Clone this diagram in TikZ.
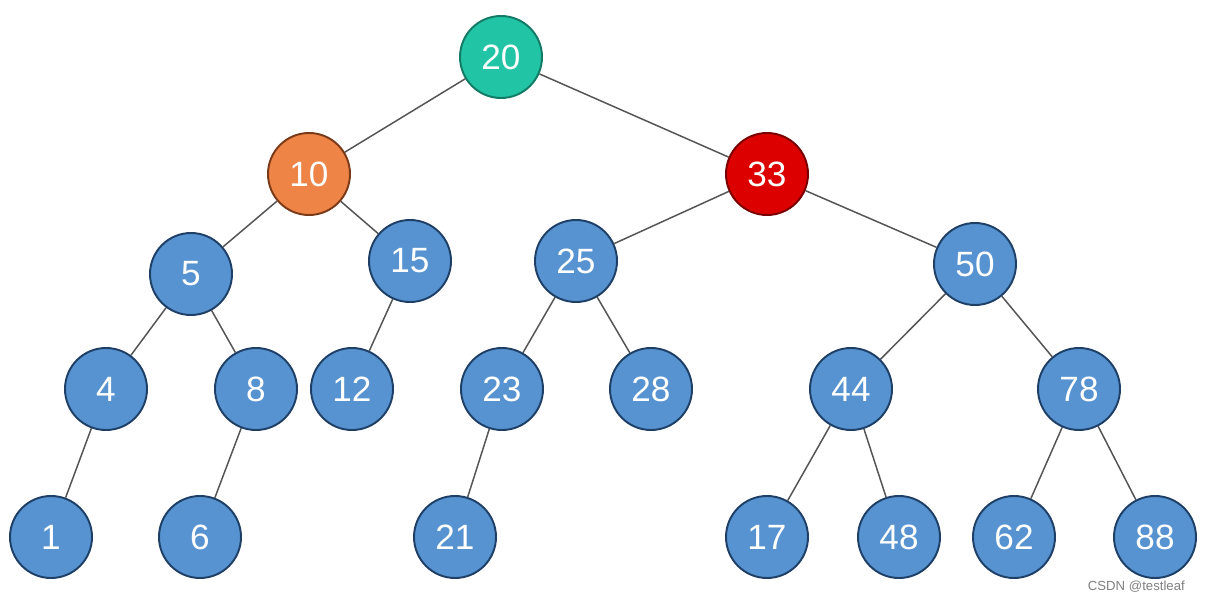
\documentclass[tikz,border=0pt]{standalone}
\usepackage{fontspec}
\setmainfont{Liberation Sans}
\usepackage{tikz}
\usetikzlibrary{
  positioning,
  backgrounds,
}
\definecolor{rootFill}{HTML}{22C4A6}
\definecolor{rootLine}{HTML}{137A66}
\definecolor{leftFill}{HTML}{EE8446}
\definecolor{leftLine}{HTML}{7A3A18}
\definecolor{rightFill}{HTML}{DC0000}
\definecolor{rightLine}{HTML}{7A0000}
\definecolor{keyFill}{HTML}{5793D0}
\definecolor{keyLine}{HTML}{1E3F66}
\definecolor{edgeCol}{HTML}{555555}

\tikzset{
  keynode/.style={circle, minimum size=1.64cm, inner sep=0pt,
    line width=1.1pt, text=white,
    font=\fontsize{20}{20}\selectfont},
  treeedge/.style={draw=edgeCol, line width=0.85pt},
}

\begin{document}
\begin{tikzpicture}
\useasboundingbox (0,0) rectangle (24.12,-12.04);

% keys of the tree: key/x/y/fill/border
\foreach \key/\x/\y/\fcol/\dcol in {%
  20/10.02/-1.14/rootFill/rootLine,%
  10/6.18/-3.48/leftFill/leftLine,%
  33/15.34/-3.48/rightFill/rightLine,%
  5/3.82/-5.48/keyFill/keyLine,%
  15/8.20/-5.22/keyFill/keyLine,%
  25/11.52/-5.22/keyFill/keyLine,%
  50/19.50/-5.28/keyFill/keyLine,%
  4/2.12/-7.78/keyFill/keyLine,%
  8/5.12/-7.78/keyFill/keyLine,%
  12/7.04/-7.78/keyFill/keyLine,%
  23/10.04/-7.78/keyFill/keyLine,%
  28/13.02/-7.78/keyFill/keyLine,%
  44/17.02/-7.78/keyFill/keyLine,%
  78/21.58/-7.78/keyFill/keyLine,%
  1/1.02/-10.74/keyFill/keyLine,%
  6/4.00/-10.74/keyFill/keyLine,%
  21/9.10/-10.74/keyFill/keyLine,%
  17/15.34/-10.74/keyFill/keyLine,%
  48/17.98/-10.74/keyFill/keyLine,%
  62/20.28/-10.74/keyFill/keyLine,%
  88/23.10/-10.74/keyFill/keyLine%
}
{
  \node[keynode, fill=\fcol, draw=\dcol] (k\key) at (\x, \y) {\key};
}

% parent -- child links, behind the keys
\begin{scope}[on background layer]
\foreach \parent/\child in {20/10, 20/33, 10/5, 10/15, 33/25, 33/50,
  5/4, 5/8, 15/12, 25/23, 25/28, 50/44, 50/78,
  4/1, 8/6, 23/21, 44/17, 44/48, 78/62, 78/88}
{
  \draw[treeedge] (k\parent) -- (k\child);
}
\end{scope}

% watermark
\node[text=black!50, font=\fontsize{7.5}{8}\selectfont, anchor=east]
  (mark) at (23.82, -11.74) {CSDN @testleaf};

\end{tikzpicture}
\end{document}
